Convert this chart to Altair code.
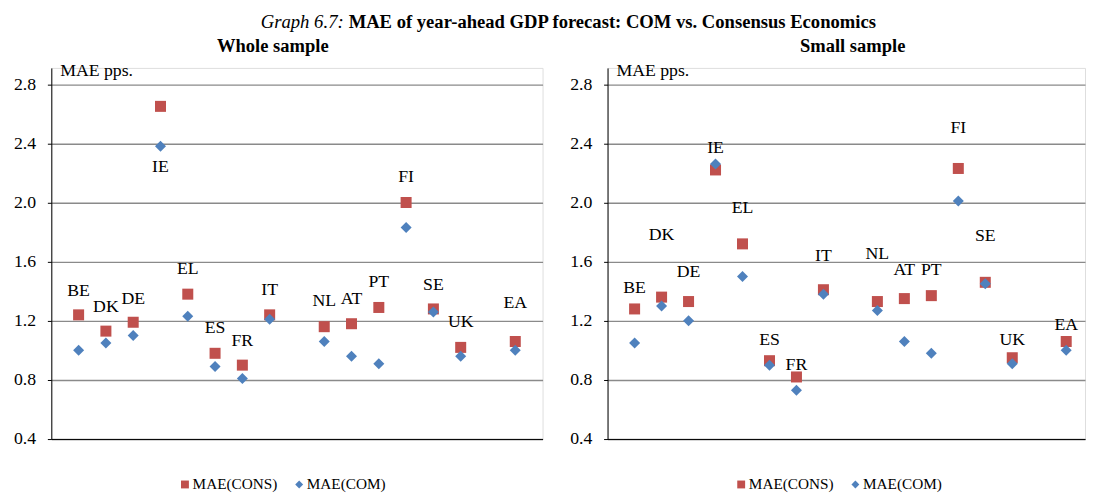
import altair as alt
import pandas as pd

# ---- data -------------------------------------------------------------
SLOTS = ["BE", "DK", "DE", "IE", "EL", "ES", "FR", "IT", "gap1",
         "NL", "AT", "PT", "FI", "SE", "UK", "gap2", "EA"]
COUNTRIES = ["BE", "DK", "DE", "IE", "EL", "ES", "FR", "IT",
             "NL", "AT", "PT", "FI", "SE", "UK", "EA"]
SERIES = ["MAE(CONS)", "MAE(COM)"]

WHOLE_CONS = [1.24, 1.13, 1.19, 2.65, 1.38, 0.98, 0.90, 1.24, 1.16, 1.18, 1.29, 2.00, 1.28, 1.02, 1.06]
WHOLE_COM = [1.00, 1.05, 1.10, 2.38, 1.23, 0.89, 0.81, 1.21, 1.06, 0.96, 0.91, 1.83, 1.26, 0.96, 1.00]
SMALL_CONS = [1.28, 1.36, 1.33, 2.22, 1.72, 0.93, 0.82, 1.41, 1.33, 1.35, 1.37, 2.23, 1.46, 0.95, 1.06]
SMALL_COM = [1.05, 1.30, 1.20, 2.26, 1.50, 0.90, 0.73, 1.38, 1.27, 1.06, 0.98, 2.01, 1.45, 0.91, 1.00]

# level (in MAE units) at which each country label sits
WHOLE_LABEL_AT = [1.40, 1.29, 1.35, 2.24, 1.55, 1.15, 1.06, 1.41, 1.33, 1.35, 1.46, 2.17, 1.44, 1.19, 1.32]
SMALL_LABEL_AT = [1.42, 1.78, 1.53, 2.37, 1.96, 1.07, 0.90, 1.64, 1.65, 1.54, 1.54, 2.50, 1.77, 1.07, 1.17]

Y_TICKS = [0.4, 0.8, 1.2, 1.6, 2.0, 2.4, 2.8]

TITLE_ITALIC = "Graph 6.7:"
TITLE_BOLD = "MAE of year-ahead GDP forecast: COM vs. Consensus Economics"
SUBTITLES = ["Whole sample", "Small sample"]
UNIT = "MAE pps."

# ---- style ------------------------------------------------------------
FONT = "Liberation Serif"
RED = "#C0504D"
BLUE = "#4F81BD"
H = 377
LEFT_W = 499
RIGHT_W = 485


def legend():
    return alt.Legend(
        orient="none", legendX=128, legendY=415, direction="horizontal",
        title=None, symbolSize=64, symbolStrokeWidth=0, symbolOpacity=1,
        labelFont=FONT, labelFontSize=15.5, labelColor="black",
        labelOffset=0, columnPadding=14,
    )


def panel(cons, com, label_at, subtitle, width, xscale, with_title):
    pts = pd.DataFrame({
        "country": COUNTRIES * 2,
        "series": [SERIES[0]] * len(COUNTRIES) + [SERIES[1]] * len(COUNTRIES),
        "value": cons + com,
    })
    labs = pd.DataFrame({"country": COUNTRIES, "value": label_at})

    x = alt.X("country:N", scale=xscale,
              axis=alt.Axis(labels=False, ticks=False, grid=False, title=None,
                            domain=True, domainColor="black", domainWidth=1))
    y = alt.Y("value:Q",
              scale=alt.Scale(domain=[0.4, 2.91], nice=False, zero=False),
              axis=alt.Axis(values=Y_TICKS, format=".1f", title=None,
                            grid=True, gridColor="#8a8a8a", gridWidth=1.4,
                            domain=True, domainColor="black", domainWidth=1,
                            ticks=True, tickColor="black", tickSize=4,
                            labelPadding=12, labelFont=FONT, labelFontSize=18,
                            labelColor="black"))

    points = alt.Chart(pts).mark_point(filled=True, size=125, opacity=1).encode(
        x=x, y=y,
        color=alt.Color("series:N", scale=alt.Scale(domain=SERIES, range=[RED, BLUE]),
                        legend=legend()),
        shape=alt.Shape("series:N", scale=alt.Scale(domain=SERIES, range=["square", "diamond"]),
                        legend=legend()),
    )
    labels = alt.Chart(labs).mark_text(
        font=FONT, fontSize=18, color="black", baseline="middle", align="center"
    ).encode(x=x, y=y, text="country:N")

    unit = alt.Chart(pd.DataFrame({"t": [UNIT]})).mark_text(
        font=FONT, fontSize=18, color="black", align="left", baseline="middle"
    ).encode(x=alt.value(9), y=alt.value(3), text="t:N")

    sub_x = 225 if with_title else 249
    sub = alt.Chart(pd.DataFrame({"t": [subtitle]})).mark_text(
        font=FONT, fontSize=18.8, fontWeight="bold", color="black",
        align="center", baseline="middle"
    ).encode(x=alt.value(sub_x), y=alt.value(-22), text="t:N")

    layers = [points, labels, unit, sub]
    if with_title:
        t1 = alt.Chart(pd.DataFrame({"t": [TITLE_ITALIC]})).mark_text(
            font=FONT, fontSize=19, fontStyle="italic", color="black",
            align="right", baseline="middle"
        ).encode(x=alt.value(297), y=alt.value(-47), text="t:N")
        t2 = alt.Chart(pd.DataFrame({"t": [TITLE_BOLD]})).mark_text(
            font=FONT, fontSize=18.9, fontWeight="bold", color="black",
            align="left", baseline="middle"
        ).encode(x=alt.value(302), y=alt.value(-47), text="t:N")
        layers += [t1, t2]

    return alt.layer(*layers).properties(width=width, height=H)


left = panel(WHOLE_CONS, WHOLE_COM, WHOLE_LABEL_AT, SUBTITLES[0], LEFT_W,
             alt.Scale(type="point", domain=SLOTS, padding=1), True)
right = panel(SMALL_CONS, SMALL_COM, SMALL_LABEL_AT, SUBTITLES[1], RIGHT_W,
              alt.Scale(type="point", domain=SLOTS, padding=0.85, align=0.59), False)

chart = (
    alt.hconcat(left, right, spacing=66, bounds="flush")
    .resolve_scale(color="independent", shape="independent")
    .properties(padding={"left": 5, "top": 0, "right": 0, "bottom": 0},
                background="white")
    .configure_view(stroke=None)
    .configure(font=FONT)
)

chart.save("out.html", embed_options={"renderer": "svg", "actions": False})
